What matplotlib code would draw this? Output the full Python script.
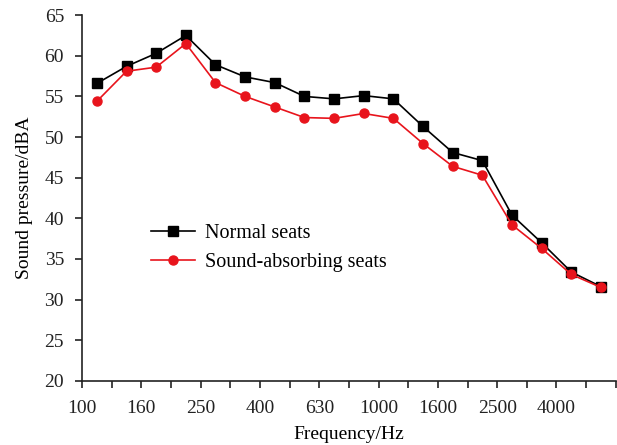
import matplotlib
matplotlib.use("Agg")
import matplotlib.pyplot as plt
import numpy as np

plt.rcParams['font.family'] = ['Liberation Serif', 'DejaVu Serif']

bands = ["100", "125", "160", "200", "250", "315", "400", "500", "630", "800",
         "1000", "1250", "1600", "2000", "2500", "3150", "4000", "5000"]
normal = [56.6, 58.7, 60.3, 62.5, 58.9, 57.4, 56.7, 55.0, 54.7, 55.1,
          54.7, 51.3, 48.1, 47.1, 40.4, 37.0, 33.4, 31.6]
absorbing = [54.4, 58.1, 58.6, 61.5, 56.7, 55.0, 53.7, 52.4, 52.3, 52.9,
             52.3, 49.2, 46.4, 45.3, 39.2, 36.3, 33.1, 31.5]
tick_labels = ["100", "", "160", "", "250", "", "400", "", "630", "",
               "1000", "", "1600", "", "2500", "", "4000", "", ""]

fig = plt.figure(figsize=(6.17, 4.45), dpi=100)
ax = fig.add_axes([0.133, 0.144, 0.865, 0.822])

x = np.arange(len(bands)) + 0.5
ax.plot(x, normal, color='black', marker='s', markersize=6.5, linewidth=1.2,
        label='Normal seats')
ax.plot(x, absorbing, color='#e8141c', marker='o', markersize=6.5, linewidth=1.2,
        label='Sound-absorbing seats')

ax.set_xlim(0, len(bands))
ax.set_ylim(20, 65)
ax.set_xticks(np.arange(len(tick_labels)))
ax.set_xticklabels(tick_labels)
ax.set_yticks(np.arange(20, 66, 5))
ax.spines['top'].set_visible(False)
ax.spines['right'].set_visible(False)
for s in ['left', 'bottom']:
    ax.spines[s].set_linewidth(1.2)
    ax.spines[s].set_color('#222222')
ax.tick_params(axis='both', direction='out', length=5, width=1.2,
               labelsize=14, colors='#222222')
ax.tick_params(axis='x', pad=9)
ax.tick_params(axis='y', pad=8)
ax.set_xlabel('Frequency/Hz', fontsize=14, labelpad=6)
ax.set_ylabel('Sound pressure/dBA', fontsize=14, labelpad=8)

ax.legend(loc='upper left', bbox_to_anchor=(0.095, 0.48), frameon=False,
          fontsize=14.5, handlelength=2.2, labelspacing=0.5, handletextpad=0.5)

fig.savefig('out.png', dpi=100)
